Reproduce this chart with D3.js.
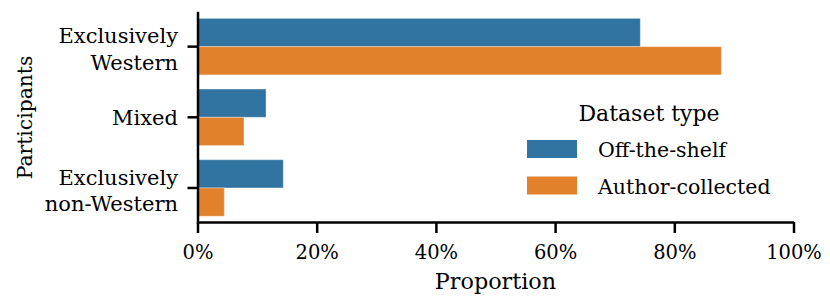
<!DOCTYPE html>
<html><head><meta charset="utf-8">
<script src="https://cdn.jsdelivr.net/npm/d3@7"></script>
<style>
body{margin:0;background:#fff;}
svg text{fill:#000;}
</style></head>
<body><svg id="c" width="830" height="308"></svg>
<script>
const FONT = "DejaVu Serif";
const categories = [["Exclusively","Western"],["Mixed"],["Exclusively","non-Western"]];
const categoryKeys = ["Exclusively Western","Mixed","Exclusively non-Western"];
const seriesNames = ["Off-the-shelf","Author-collected"];
const offTheShelf = [0.743, 0.115, 0.144];
const authorCollected = [0.879, 0.078, 0.045];
const xTicks = [0,0.2,0.4,0.6,0.8,1.0];
const colors = ["#3274a1","#e1812c"];

const svg = d3.select("#c");
const x = d3.scaleLinear().domain([0,1]).range([197.5,793.5]);
const y = d3.scaleBand().domain(categoryKeys).range([11.3,223.3]).paddingInner(0).paddingOuter(0);
const inner = d3.scaleBand().domain(seriesNames).range([0, y.bandwidth()*0.8]);
const seriesVals = [offTheShelf, authorCollected];

const g = svg.append("g");
seriesNames.forEach((s,si)=>{
  g.selectAll(null).data(categoryKeys).enter().append("rect")
    .attr("x", x(0))
    .attr("y", (d)=> y(d) + y.bandwidth()*0.1 + inner(s))
    .attr("width", (d,i)=> x(seriesVals[si][i]) - x(0))
    .attr("height", inner.bandwidth())
    .attr("fill", colors[si])
    .attr("stroke","#fff").attr("stroke-opacity",0.35).attr("stroke-width",1);
});

// x axis
const xa = svg.append("g").attr("transform","translate(0,222)")
  .call(d3.axisBottom(x).tickValues(xTicks).tickFormat(d3.format(".0%")).tickSize(11).tickSizeOuter(0));
xa.attr("font-family",FONT);
xa.select(".domain").attr("stroke","#000").attr("stroke-width",2.5);
xa.selectAll(".tick line").attr("stroke","#000").attr("stroke-width",2.5);
xa.selectAll(".tick text").attr("font-size",19.5).attr("dy",0).attr("y",37).attr("font-family",FONT);

// y axis
const ya = svg.append("g").attr("transform","translate(197.5,0)")
  .call(d3.axisLeft(y).tickSize(10).tickSizeOuter(0).tickFormat(""));
ya.select(".domain").attr("stroke","#000").attr("stroke-width",2.5);
ya.selectAll(".tick line").attr("stroke","#000").attr("stroke-width",2.5);

// category labels
const lh = 26.7;
categoryKeys.forEach((k,i)=>{
  const lines = categories[i];
  const n = lines.length;
  const cy = y(k) + y.bandwidth()/2;
  const t = svg.append("text").attr("text-anchor","end").attr("font-size",21).attr("font-family",FONT);
  lines.forEach((ln,j)=>{
    t.append("tspan").attr("x",178).attr("y", cy + 8 + (j-(n-1)/2)*lh + (n-1)*2).text(ln);
  });
});

// axis titles
svg.append("text").attr("x",(x(0)+x(1))/2).attr("y",289).attr("text-anchor","middle").attr("font-size",22.3).attr("font-family",FONT).text("Proportion");
svg.append("text").attr("transform","translate(31.5,117.5) rotate(-90)").attr("text-anchor","middle").attr("font-size",20.3).attr("font-family",FONT).text("Participants");

// legend
const lg = svg.append("g");
lg.append("text").attr("x",649).attr("y",121).attr("text-anchor","middle").attr("font-size",22).attr("font-family",FONT).text("Dataset type");
seriesNames.forEach((s,i)=>{
  lg.append("rect").attr("x",527).attr("y",140 + i*36.5).attr("width",50).attr("height",18).attr("fill",colors[i]);
  lg.append("text").attr("x",598).attr("y",157 + i*36.5).attr("font-size",20.5).attr("font-family",FONT).text(s);
});
</script></body></html>
